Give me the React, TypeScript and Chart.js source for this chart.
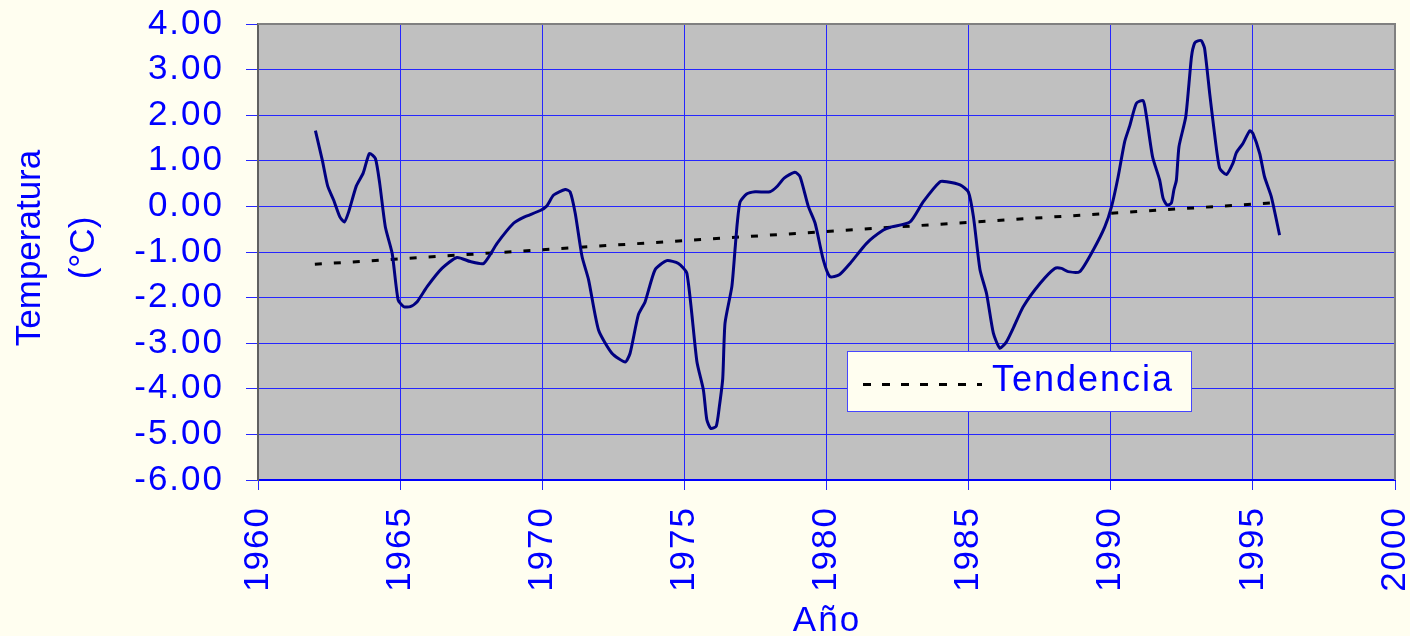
import React, { useEffect, useRef } from 'react';
import { Chart, registerables } from 'chart.js';

Chart.register(...registerables);

// ---- Data ----
const years = [
  1962.02, 1962.26, 1962.45, 1962.66, 1962.88, 1963.04, 1963.19, 1963.46, 1963.70, 1963.92,
  1964.13, 1964.28, 1964.48, 1964.72, 1964.93, 1965.13, 1965.36, 1965.60, 1965.95, 1966.47,
  1967.00, 1967.47, 1967.94, 1968.41, 1968.99, 1969.34, 1969.93, 1970.16, 1970.40, 1970.81,
  1970.98, 1971.16, 1971.40, 1971.63, 1971.98, 1972.45, 1972.92, 1973.09, 1973.38, 1973.62,
  1973.97, 1974.38, 1974.79, 1975.09, 1975.44, 1975.67, 1975.79, 1975.93, 1976.12, 1976.23,
  1976.35, 1976.43, 1976.67, 1976.78, 1976.86, 1976.96, 1977.19, 1977.49, 1978.01, 1978.25,
  1978.51, 1978.89, 1979.07, 1979.36, 1979.60, 1979.89, 1980.12, 1980.45, 1980.83, 1981.41,
  1982.00, 1982.29, 1982.94, 1983.40, 1983.99, 1984.23, 1984.70, 1984.99, 1985.17, 1985.40,
  1985.63, 1985.87, 1986.10, 1986.33, 1986.57, 1986.92, 1987.51, 1988.03, 1988.27, 1988.50,
  1988.91, 1989.38, 1989.79, 1990.03, 1990.26, 1990.49, 1990.67, 1990.90, 1991.14, 1991.25,
  1991.47, 1991.72, 1991.84, 1991.98, 1992.13, 1992.22, 1992.31, 1992.40, 1992.64, 1992.84,
  1992.95, 1993.07, 1993.19, 1993.30, 1993.48, 1993.65, 1993.83, 1994.07, 1994.30, 1994.42,
  1994.65, 1994.89, 1995.00, 1995.24, 1995.41, 1995.65, 1995.94,
];
const temps = [
  1.66, 1.02, 0.45, 0.14, -0.23, -0.34, -0.12, 0.45, 0.73, 1.16,
  1.05, 0.51, -0.45, -1.03, -2.05, -2.20, -2.20, -2.09, -1.76, -1.36,
  -1.12, -1.21, -1.25, -0.81, -0.37, -0.24, -0.09, 0.01, 0.25, 0.37,
  0.32, -0.15, -1.10, -1.61, -2.71, -3.22, -3.41, -3.22, -2.38, -2.09,
  -1.39, -1.19, -1.25, -1.47, -3.40, -4.03, -4.68, -4.87, -4.82, -4.39,
  -3.77, -2.56, -1.76, -0.96, -0.37, 0.10, 0.27, 0.32, 0.32, 0.43,
  0.62, 0.75, 0.65, 0.00, -0.37, -1.18, -1.54, -1.50, -1.25, -0.81,
  -0.52, -0.45, -0.34, 0.10, 0.54, 0.54, 0.47, 0.32, -0.23, -1.39,
  -1.91, -2.78, -3.11, -2.97, -2.67, -2.20, -1.69, -1.36, -1.36, -1.43,
  -1.43, -0.96, -0.45, 0.00, 0.65, 1.42, 1.77, 2.26, 2.32, 2.00,
  1.09, 0.58, 0.18, 0.03, 0.07, 0.36, 0.58, 1.31, 1.97, 3.28,
  3.58, 3.63, 3.63, 3.47, 2.48, 1.60, 0.84, 0.70, 0.95, 1.18,
  1.38, 1.66, 1.60, 1.16, 0.65, 0.21, -0.63,
];
const trendYears = [1962, 1996];
const trendValues = [-1.27, 0.09];

const xTickValues = [1960, 1965, 1970, 1975, 1980, 1985, 1990, 1995, 2000];
const yTickValues = [4, 3, 2, 1, 0, -1, -2, -3, -4, -5, -6];
const yMin = -6;
const yMax = 4;

const legendLabel = 'Tendencia';
const yTitleLines = ['Temperatura', '(°C)'];
const xTitle = 'Año';

// ---- Styles ----
const FONT = "'Liberation Sans', Arial, sans-serif";
const FONT_SIZE = 35;
const BLUE = '#0000ff';
const GRID = '#2626ff';
const PAGE_BG = '#fffef0';
const PLOT_BG = '#c0c0c0';
const SPACING = '2px';

export default function App() {
  const ref = useRef<HTMLCanvasElement | null>(null);

  useEffect(() => {
    document.body.style.margin = '0';
    const canvas = ref.current;
    if (!canvas) return;

    const setSpacing = (chart: any) => {
      (chart.ctx as any).letterSpacing = SPACING;
    };

    const decorPlugin = {
      id: 'decor',
      beforeInit: setSpacing,
      beforeUpdate: setSpacing,
      beforeLayout: setSpacing,
      beforeDraw(chart: any) {
        setSpacing(chart);
        const { ctx, chartArea: a } = chart;
        ctx.save();
        ctx.fillStyle = PLOT_BG;
        ctx.fillRect(a.left, a.top, a.right - a.left, a.bottom - a.top);
        ctx.restore();
      },
      afterDraw(chart: any) {
        const { ctx, chartArea: a } = chart;
        ctx.save();
        (ctx as any).letterSpacing = SPACING;
        // top and right frame
        ctx.strokeStyle = '#808080';
        ctx.lineWidth = 2;
        ctx.beginPath();
        ctx.moveTo(a.left, a.top);
        ctx.lineTo(a.right, a.top);
        ctx.lineTo(a.right, a.bottom);
        ctx.stroke();

        // legend box
        const bx = 847.5, by = 351.5, bw = 344, bh = 60;
        ctx.fillStyle = PAGE_BG;
        ctx.fillRect(bx, by, bw, bh);
        ctx.strokeStyle = '#4646ff';
        ctx.lineWidth = 1;
        ctx.strokeRect(bx, by, bw, bh);
        ctx.strokeStyle = '#000000';
        ctx.lineWidth = 3;
        ctx.setLineDash([8, 11]);
        ctx.beginPath();
        ctx.moveTo(863, 384.5);
        ctx.lineTo(982, 384.5);
        ctx.stroke();
        ctx.setLineDash([]);
        ctx.fillStyle = BLUE;
        ctx.font = `36px ${FONT}`;
        ctx.textAlign = 'left';
        ctx.textBaseline = 'alphabetic';
        ctx.fillText(legendLabel, 992, 391);

        // axis titles
        ctx.font = `${FONT_SIZE}px ${FONT}`;
        ctx.textAlign = 'center';
        ctx.fillText(xTitle, 827, 631);
        (ctx as any).letterSpacing = '0px';
        const cy = (a.top + a.bottom) / 2 - 4;
        const baselines = [40, 94];
        yTitleLines.forEach((line, i) => {
          ctx.save();
          ctx.translate(baselines[i], cy);
          ctx.rotate(-Math.PI / 2);
          ctx.fillText(line, 0, 0);
          ctx.restore();
        });
        ctx.restore();
      },
    };

    const chart = new Chart(canvas, {
      type: 'line',
      data: {
        datasets: [
          {
            label: 'Temperatura',
            data: years.map((y, i) => ({ x: y, y: temps[i] })),
            borderColor: '#000080',
            borderWidth: 3,
            pointRadius: 0,
            tension: 0.2,
            fill: false,
          },
          {
            label: legendLabel,
            data: trendYears.map((y, i) => ({ x: y, y: trendValues[i] })),
            borderColor: '#000000',
            borderWidth: 3,
            borderDash: [7, 12],
            pointRadius: 0,
            tension: 0,
            fill: false,
          },
        ],
      },
      options: {
        animation: false,
        responsive: false,
        maintainAspectRatio: false,
        layout: { padding: { top: 24, right: 15, bottom: 0, left: 0 } },
        plugins: {
          legend: { display: false },
          tooltip: { enabled: false },
          title: { display: false },
        },
        scales: {
          x: {
            type: 'linear',
            min: 1960,
            max: 2000,
            afterFit: (s: any) => {
              s.height = 636 - 480;
              s.paddingLeft = 0;
              s.paddingRight = 0;
              s.paddingTop = 0;
              s.paddingBottom = 0;
            },
            afterBuildTicks: (s: any) => {
              s.ticks = xTickValues.map((v) => ({ value: v }));
            },
            ticks: {
              autoSkip: false,
              minRotation: 90,
              maxRotation: 90,
              color: BLUE,
              font: { family: FONT, size: FONT_SIZE },
              padding: 16,
              callback: (v: any) => String(v),
            },
            grid: { color: GRID, lineWidth: 1, tickLength: 10, tickColor: GRID, drawTicks: true },
            border: { display: true, color: BLUE, width: 2 },
          },
          y: {
            type: 'linear',
            min: yMin,
            max: yMax,
            afterFit: (s: any) => {
              s.width = 258;
              s.paddingLeft = 0;
              s.paddingRight = 0;
              s.paddingTop = 0;
              s.paddingBottom = 0;
            },
            afterBuildTicks: (s: any) => {
              s.ticks = yTickValues.map((v) => ({ value: v }));
            },
            ticks: {
              autoSkip: false,
              color: BLUE,
              font: { family: FONT, size: FONT_SIZE },
              padding: 22,
              callback: (v: any) => Number(v).toFixed(2),
            },
            grid: { color: GRID, lineWidth: 1, tickLength: 12, tickColor: GRID, drawTicks: true },
            border: { display: true, color: '#606060', width: 2 },
          },
        },
      },
      plugins: [decorPlugin],
    });

    return () => {
      chart.destroy();
    };
  }, []);

  return (
    <div
      style={{
        position: 'fixed',
        left: 0,
        top: 0,
        width: 1410,
        height: 636,
        background: PAGE_BG,
      }}
    >
      <canvas ref={ref} width={1410} height={636} style={{ display: 'block' }} />
    </div>
  );
}
